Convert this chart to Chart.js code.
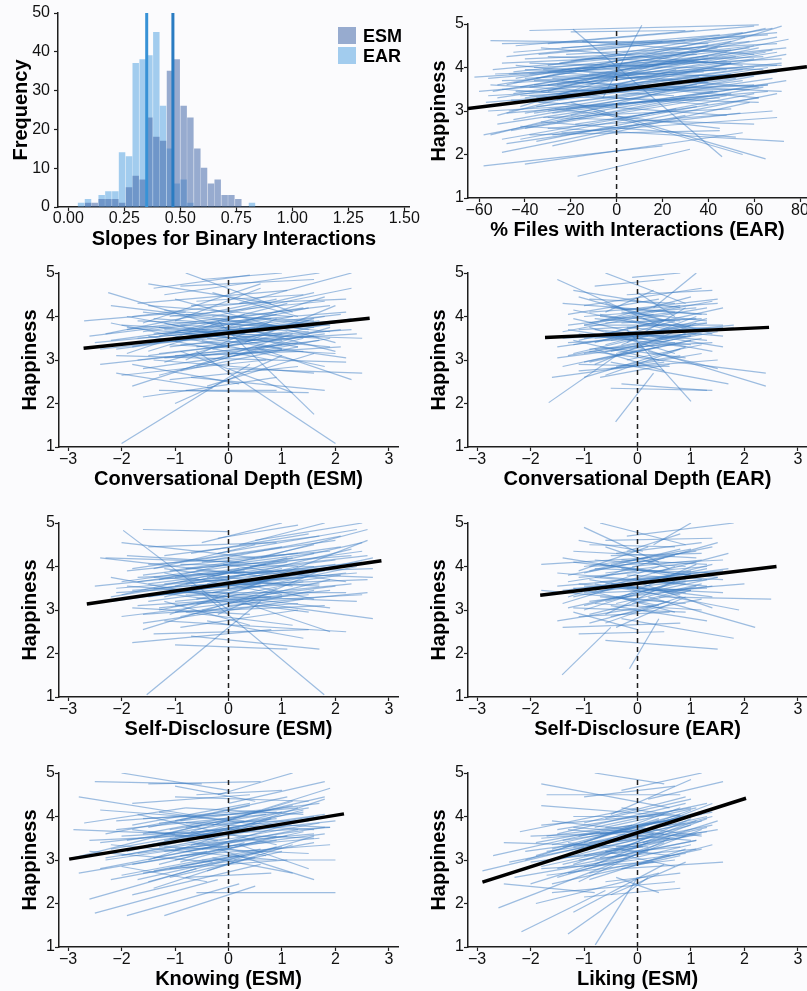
<!DOCTYPE html>
<html>
<head>
<meta charset="utf-8">
<title>Happiness and social interactions</title>
<script src="https://cdn.jsdelivr.net/npm/chart.js@4.4.1/dist/chart.umd.min.js"></script>
<style>
    html, body {
        margin: 0;
        padding: 0;
        width: 807px;
        height: 991px;
        overflow: hidden;
        background: #fbfbfd;
        font-family: "Liberation Sans", Arial, Helvetica, sans-serif;
    }
    canvas { position: absolute; }
    .swatch { position: absolute; width: 18px; height: 17px; }
    .key {
        position: absolute;
        font-size: 18px;
        font-weight: bold;
        color: #000;
        line-height: 20px;
    }
</style>
</head>
<body>
<canvas id="histChart" width="420" height="250" style="left:0;top:0"></canvas>
<canvas id="filesEarChart" width="420" height="245" style="left:409px;top:1px"></canvas>
<canvas id="depthEsmChart" width="420" height="245" style="left:0;top:250px"></canvas>
<canvas id="depthEarChart" width="420" height="245" style="left:409px;top:250px"></canvas>
<canvas id="discEsmChart" width="420" height="245" style="left:0;top:500px"></canvas>
<canvas id="discEarChart" width="420" height="245" style="left:409px;top:500px"></canvas>
<canvas id="knowEsmChart" width="420" height="245" style="left:0;top:750px"></canvas>
<canvas id="likeEsmChart" width="420" height="245" style="left:409px;top:750px"></canvas>

<!-- histogram legend -->
<div class="swatch" style="left:338px;top:27px;background:rgba(70,105,170,0.55)"></div>
<div class="key" style="left:363px;top:26px">ESM</div>
<div class="swatch" style="left:338px;top:47px;background:rgba(90,165,225,0.55)"></div>
<div class="key" style="left:363px;top:46px">EAR</div>

<script>
// ---- histogram data ----
const histBins = [0.057, 0.088, 0.118, 0.149, 0.179, 0.210, 0.240, 0.271, 0.301, 0.332, 0.362, 0.393, 0.423,
                  0.454, 0.484, 0.515, 0.545, 0.576, 0.606, 0.637, 0.667, 0.698, 0.728, 0.759, 0.789, 0.820];
const earCounts = [1, 2, 0, 3, 4, 4, 14, 13, 37, 38, 39, 45, 26, 15, 6, 7, 1, 0, 0, 0, 0, 0, 0, 0, 0, 1];
const esmCounts = [0, 1, 1, 2, 2, 2, 1, 5, 8, 7, 23, 18, 17, 35, 38, 26, 23, 15, 10, 6, 7, 3, 3, 2, 0, 0];
const earMean = 0.350;
const esmMean = 0.467;
const slopeTicks = [0, 0.25, 0.5, 0.75, 1, 1.25, 1.5];
const freqTicks = [0, 10, 20, 30, 40, 50];

// ---- shared tick values ----
const happyTicks = [1, 2, 3, 4, 5];
const zTicks = [-3, -2, -1, 0, 1, 2, 3];
const pctTicks = [-60, -40, -20, 0, 20, 40, 60, 80];

// ---- person-level lines [x1, y1, x2, y2] and fixed effect lines ----
const filesEarLines = [
    [-62, 3.78, 48, 4.15], [-58, 1.74, 20, 2.2], [-17, 1.5, 32, 2.12], [-19, 4.88, 46, 1.95],
    [-6, 3.3, 11, 4.97], [-55, 4.62, 40, 4.55], [-50, 4.55, 30, 4.62], [-38, 4.85, 62, 4.98],
    [-20, 4.82, 30, 4.85], [-45, 3.9, 60, 4.5], [-52, 3.3, 50, 4.1], [-48, 3.6, 65, 4.9],
    [-42, 3.1, 72, 4.95], [-55, 2.45, 40, 3.7], [-50, 2.05, 30, 2.9], [-40, 1.78, 55, 2.5],
    [-35, 2.3, 70, 3.4], [-30, 2.6, 68, 3.0], [-45, 2.8, 60, 3.8], [-56, 3.0, 45, 3.3],
    [-60, 3.45, 38, 3.9], [-40, 4.2, 50, 4.4], [-35, 3.75, 70, 4.7], [-25, 3.4, 74, 4.3],
    [-28, 2.95, 66, 3.6], [-33, 4.45, 55, 4.05], [-50, 4.1, 35, 4.3], [-44, 3.45, 58, 3.5],
    [-38, 2.45, 45, 2.55], [-30, 3.9, 62, 3.55], [-53, 3.85, 20, 4.0], [-42, 2.65, 73, 2.3],
    [-20, 3.2, 65, 1.9], [-10, 3.0, 55, 2.0], [-48, 2.25, 10, 2.7], [-58, 2.45, -5, 3.0],
    [-55, 3.6, 25, 3.35], [-45, 4.35, 45, 4.75], [-30, 4.55, 60, 4.95], [-25, 4.1, 68, 4.9],
    [-15, 3.65, 72, 4.1], [-35, 3.3, 55, 3.95], [-47, 3.0, 52, 3.75], [-38, 3.55, 60, 4.2],
    [-52, 2.7, 42, 3.45], [-28, 2.2, 58, 3.2], [-40, 3.95, 45, 3.8], [-22, 4.3, 70, 4.55],
    [-57, 3.2, 35, 3.6], [-32, 2.85, 50, 3.05], [-44, 3.75, 50, 4.6], [-36, 4.0, 64, 4.25],
    [-50, 3.5, 40, 3.15], [-26, 3.6, 75, 4.65], [-18, 2.7, 62, 3.3], [-42, 2.35, 35, 3.1],
    [-24, 2.5, 70, 2.85], [-54, 3.95, 30, 4.35], [-34, 3.2, 66, 4.0], [-46, 3.25, 48, 2.9],
    [-30, 3.45, 40, 4.5], [-12, 3.85, 68, 4.4], [-40, 2.95, 30, 3.55], [-50, 3.7, 62, 3.85],
    [-20, 2.9, 74, 3.7], [-27, 3.05, 45, 2.6], [-44, 4.05, 40, 3.65], [-36, 3.7, 72, 3.45],
    [-56, 3.35, 10, 3.55], [-15, 4.6, 60, 4.3], [-8, 4.4, 55, 4.8], [-33, 2.75, 52, 2.4],
    [-48, 4.25, 20, 4.6], [-24, 3.95, 40, 4.15], [-38, 3.35, 62, 3.2], [-52, 2.9, 26, 3.95],
    [-30, 4.25, 72, 4.05], [0, 2.8, 60, 3.4], [-45, 3.4, 70, 4.35], [-28, 3.5, 55, 3.85],
    [-40, 3.3, 60, 4.0], [-35, 3.1, 55, 3.7], [-30, 3.6, 65, 4.35], [-45, 3.65, 45, 3.95],
    [-25, 3.25, 70, 3.9], [-50, 3.15, 50, 3.85], [-38, 3.85, 58, 4.45], [-42, 3.55, 40, 4.25],
    [-20, 3.45, 60, 3.6], [-33, 3.45, 62, 4.45], [-28, 3.75, 48, 3.95], [-47, 3.85, 52, 4.25],
    [-36, 2.95, 68, 3.75], [-22, 3.05, 66, 3.45], [-44, 3.2, 36, 3.8], [-30, 4.05, 56, 4.7],
    [-52, 3.6, 44, 4.45], [-26, 2.75, 64, 3.55], [-40, 2.6, 48, 3.35], [-34, 4.3, 70, 4.8],
    [-18, 3.95, 74, 4.45], [-48, 2.95, 40, 3.35], [-24, 3.7, 62, 3.3], [-38, 4.1, 64, 3.95],
    [-30, 3.0, 50, 3.4], [-56, 3.75, 34, 4.15], [-42, 3.35, 66, 3.6], [-20, 4.15, 58, 4.6],
    [-46, 2.55, 30, 3.3], [-32, 3.95, 72, 4.2], [-28, 2.45, 54, 2.95], [-36, 3.6, 44, 3.45],
    [-50, 2.35, 26, 3.05], [-24, 4.45, 66, 4.75], [-40, 3.75, 70, 4.05], [-16, 3.35, 72, 3.95],
    [-44, 4.5, 34, 4.85], [-30, 2.85, 60, 2.7], [-54, 3.45, 48, 4.35], [-26, 3.25, 50, 4.1]
];
const filesEarFixed = [-64.8, 3.06, 83, 4.02];

const depthEsmLines = [
    [-2.7, 3.9, -0.8, 4.1], [-2.0, 1.08, 0.4, 2.9], [-0.6, 3.2, 2.0, 1.08], [-2.25, 4.55, 0.3, 3.6],
    [-1.5, 4.75, 0.8, 4.3], [-0.8, 5.0, 1.2, 4.1], [-0.5, 4.85, 1.0, 5.0], [-1.2, 4.5, 1.7, 5.0],
    [0.2, 4.3, 2.3, 5.0], [-0.3, 4.0, 2.3, 4.65], [-2.2, 4.25, 1.5, 3.7], [-1.9, 3.7, 1.9, 4.25],
    [-2.5, 3.4, 0.5, 3.75], [-2.4, 2.9, 1.0, 3.35], [-2.1, 3.1, 2.2, 2.95], [-1.8, 2.4, 1.2, 3.6],
    [-1.6, 2.15, 0.9, 2.6], [-1.3, 2.3, 1.5, 2.25], [-1.0, 2.0, 1.0, 3.1], [-0.7, 2.6, 1.8, 2.3],
    [-1.4, 3.0, 1.6, 2.7], [0.0, 2.8, 2.5, 2.7], [0.5, 3.3, 2.3, 2.55], [-0.2, 3.9, 1.6, 1.75],
    [-1.7, 3.5, 2.0, 3.9], [-1.1, 3.6, 2.1, 4.05], [-2.3, 3.6, 0.9, 4.4], [-1.9, 4.0, 1.3, 3.3],
    [-1.5, 3.2, 1.8, 4.45], [-0.9, 3.35, 2.4, 3.6], [-2.0, 2.65, 0.7, 3.0], [-1.2, 4.15, 1.4, 3.85],
    [-0.4, 3.5, 2.2, 3.05], [-1.6, 3.85, 0.6, 4.75], [-2.4, 3.25, -0.2, 3.55], [-1.0, 4.4, 2.0, 3.4],
    [-0.6, 2.85, 1.9, 3.75], [-1.8, 2.9, 0.2, 2.45], [-1.3, 3.75, 1.0, 3.45], [-0.8, 3.0, 0.9, 3.95],
    [-2.2, 3.85, 0.0, 3.3], [-1.4, 4.65, 0.4, 4.95], [0.3, 3.4, 2.0, 4.25], [-0.5, 3.7, 1.5, 4.2],
    [-1.1, 2.55, 1.3, 2.85], [-2.1, 2.7, -0.3, 2.35], [-0.9, 3.2, 1.2, 2.25], [-1.7, 4.3, 1.1, 4.6],
    [-0.3, 4.55, 1.3, 4.0], [0.1, 3.1, 1.9, 3.5], [-1.5, 3.55, 0.8, 3.0], [-0.7, 4.25, 2.2, 4.4],
    [-2.0, 3.35, 1.7, 3.9], [-1.2, 3.05, 2.1, 3.3], [-0.4, 2.4, 1.6, 3.15], [-1.6, 4.1, 1.9, 3.65],
    [-0.2, 3.6, 2.5, 3.5], [-1.0, 3.9, 0.6, 4.65], [-2.6, 3.55, -0.6, 3.85], [-0.9, 4.7, 1.6, 4.85],
    [-1.3, 2.65, 1.4, 3.5], [-0.5, 3.45, 1.8, 2.85], [0.0, 4.1, 1.6, 4.55], [-1.9, 3.15, 0.3, 4.05],
    [-1.4, 3.4, 2.3, 3.7], [0.2, 3.75, 2.0, 3.2], [-0.8, 2.3, 0.9, 2.3], [-1.1, 3.3, 1.1, 3.65],
    [-1.5, 3.4, 1.5, 3.9], [-1.2, 3.7, 1.7, 3.5], [-1.8, 3.3, 1.2, 4.0], [-1.0, 3.45, 2.0, 3.85],
    [-1.6, 3.65, 1.4, 4.2], [-0.8, 3.6, 1.9, 3.3], [-1.3, 3.15, 1.6, 3.55], [-2.0, 3.8, 1.0, 3.6],
    [-1.1, 4.0, 1.8, 4.35], [-0.6, 3.3, 2.1, 3.7], [-1.7, 3.0, 1.3, 3.4], [-1.4, 3.95, 0.9, 3.75],
    [-0.9, 3.8, 1.5, 3.65], [-1.2, 2.95, 1.6, 3.95], [-2.2, 3.45, 0.8, 3.95], [-0.7, 3.55, 1.8, 4.0],
    [-1.5, 4.25, 1.2, 4.0], [-1.0, 3.1, 1.4, 3.2], [-1.9, 3.75, 0.5, 3.45], [-0.4, 3.85, 2.2, 4.1],
    [-1.3, 3.55, 1.1, 4.3], [-1.6, 2.8, 1.0, 3.25], [-0.8, 4.05, 1.6, 3.9], [-1.1, 3.35, 2.0, 3.15],
    [-0.5, 3.1, 1.7, 3.45], [-1.8, 4.0, 0.6, 4.35], [-1.4, 3.6, 1.9, 3.8], [-0.9, 2.75, 1.3, 3.3],
    [-2.1, 3.25, 0.4, 3.65], [-0.6, 4.35, 1.4, 4.5], [-1.2, 3.85, 1.0, 3.25], [-1.5, 3.1, 1.8, 3.6],
    [-0.3, 3.25, 2.3, 3.95], [-1.7, 3.9, 1.6, 3.75], [-1.0, 3.65, 0.9, 4.05]
];
const depthEsmFixed = [-2.71, 3.27, 2.64, 3.96];

const depthEarLines = [
    [-1.66, 2.02, -0.4, 3.1], [-0.41, 1.58, 0.3, 2.7], [-1.5, 4.85, 0.4, 3.8], [-0.6, 5.0, 0.9, 4.3],
    [-0.1, 4.9, 0.8, 5.0], [0.3, 4.2, 1.1, 5.0], [-0.2, 4.5, 1.4, 4.6], [-1.2, 4.6, 0.8, 4.2],
    [-1.4, 4.3, 1.3, 4.05], [-0.9, 4.1, 1.5, 4.3], [-1.0, 3.8, 1.6, 3.8], [-0.7, 3.9, 1.0, 4.45],
    [-1.3, 3.4, 1.0, 3.55], [-0.8, 3.5, 1.2, 3.7], [-1.5, 3.05, 0.7, 3.4], [-1.6, 2.6, 0.5, 2.95],
    [-1.1, 2.75, 1.5, 3.0], [-0.5, 2.95, 1.7, 2.45], [-0.9, 3.2, 2.4, 2.7], [0.0, 3.3, 2.4, 2.4],
    [-0.3, 2.45, 1.3, 2.3], [-0.2, 3.7, 1.0, 2.05], [-1.0, 2.6, 0.9, 3.3], [-0.6, 4.3, 1.4, 3.6],
    [-1.2, 3.95, 0.6, 3.45], [-0.4, 3.55, 1.8, 3.8], [-1.4, 3.65, 0.3, 4.05], [-0.8, 2.9, 1.1, 3.85],
    [-1.1, 4.45, 0.5, 3.9], [-0.5, 3.2, 0.9, 3.6], [-0.3, 4.15, 1.5, 4.4], [-0.9, 3.75, 0.7, 3.15],
    [-1.5, 3.3, 0.8, 3.7], [-0.7, 2.6, 0.6, 2.9], [0.1, 3.6, 1.6, 3.3], [-0.2, 3.0, 1.2, 3.35],
    [-1.3, 4.05, 0.4, 4.4], [-0.6, 3.35, 1.3, 3.95], [-1.0, 4.25, 1.2, 4.65], [-0.1, 4.0, 1.0, 3.7],
    [-0.8, 4.7, 0.5, 4.85], [-1.2, 3.15, 0.2, 3.55], [0.2, 3.2, 1.5, 2.8], [-0.4, 2.85, 0.8, 3.1],
    [-0.6, 3.6, 1.6, 4.2], [-1.4, 2.85, 0.1, 3.25], [-0.3, 3.85, 1.2, 3.95], [-0.9, 3.55, 0.9, 3.55],
    [0.0, 4.55, 0.7, 4.0], [-0.7, 4.0, 0.8, 3.9], [-1.1, 3.45, 0.6, 3.95], [0.4, 3.5, 1.8, 3.75],
    [-0.5, 2.35, 1.4, 2.3], [-0.2, 3.4, 0.9, 4.2], [-1.3, 3.7, 0.0, 3.45], [-0.8, 3.25, 0.5, 2.75],
    [0.1, 3.95, 1.3, 4.2], [-0.6, 4.1, 0.3, 4.6], [-0.4, 3.15, 1.1, 3.6], [-1.0, 2.95, 0.4, 3.3],
    [-1.0, 3.5, 1.2, 3.6], [-0.8, 3.7, 1.3, 3.45], [-1.2, 3.35, 1.0, 3.8], [-0.6, 3.85, 1.1, 3.95],
    [-0.9, 3.25, 1.4, 3.4], [-1.1, 3.6, 0.9, 3.3], [-0.5, 3.45, 1.3, 3.85], [-0.7, 4.05, 1.0, 3.65],
    [-1.3, 3.8, 0.7, 4.1], [-0.4, 3.1, 1.2, 3.5], [-0.8, 3.95, 1.5, 3.7], [-1.0, 3.15, 0.8, 3.55],
    [-0.6, 3.65, 1.4, 3.2], [-1.2, 4.15, 0.6, 3.7], [-0.3, 3.35, 1.1, 4.0], [-0.9, 2.95, 1.0, 3.45],
    [-0.5, 4.2, 1.2, 4.05], [-1.1, 3.7, 1.3, 3.85], [-0.7, 3.3, 0.9, 3.05], [-1.4, 3.5, 0.5, 3.6],
    [-0.2, 3.75, 1.6, 3.55], [-0.9, 3.85, 0.8, 4.25], [-0.6, 3.2, 1.5, 3.65], [-1.2, 3.45, 0.4, 3.0],
    [-0.4, 3.55, 1.0, 3.35], [-1.0, 4.0, 1.1, 4.2], [-0.8, 3.4, 0.7, 3.9], [-0.5, 2.8, 1.2, 3.15],
    [-1.3, 3.1, 0.9, 3.6], [-0.7, 3.6, 1.6, 3.75], [-0.3, 4.1, 1.3, 3.9], [-1.1, 2.9, 0.6, 2.85],
    [-0.9, 4.4, 0.7, 4.3], [-0.6, 2.65, 0.8, 3.25], [-1.0, 3.8, 1.4, 4.35]
];
const depthEarFixed = [-1.73, 3.52, 2.46, 3.75];

const discEsmLines = [
    [-1.53, 1.05, 0.6, 3.2], [-1.97, 4.83, 0.0, 3.0], [-0.5, 3.4, 1.79, 1.05], [-1.6, 4.85, 0.0, 4.8],
    [-2.3, 4.2, 0.2, 4.1], [-2.0, 4.55, 0.5, 4.2], [-0.5, 4.55, 1.0, 5.0], [0.2, 4.5, 1.8, 5.0],
    [0.5, 4.6, 2.5, 5.0], [-0.2, 4.3, 2.4, 4.85], [-1.2, 4.25, 1.7, 4.7], [-2.5, 3.55, 0.3, 3.9],
    [-2.2, 3.2, 1.5, 3.8], [-2.0, 2.85, 1.0, 3.3], [-1.8, 2.25, 0.8, 2.55], [-1.4, 2.45, 1.5, 2.55],
    [-1.0, 2.2, 1.1, 2.1], [-0.7, 2.4, 1.7, 2.1], [-1.6, 2.55, 0.9, 3.5], [-1.2, 2.75, 2.2, 2.5],
    [-0.3, 3.3, 2.7, 2.8], [0.0, 3.1, 2.6, 3.4], [-0.8, 3.35, 2.4, 3.2], [-1.5, 3.6, 2.0, 4.15],
    [-1.9, 3.9, 1.3, 4.3], [-1.0, 3.75, 2.6, 4.25], [-0.6, 3.9, 2.7, 3.75], [-2.4, 4.2, 0.8, 3.75],
    [-1.3, 3.0, 1.4, 3.65], [-0.9, 4.05, 1.6, 4.0], [-1.7, 3.3, 0.6, 3.55], [-0.4, 3.6, 2.3, 4.4],
    [-1.1, 3.45, 1.9, 3.05], [0.3, 3.5, 2.6, 4.6], [-2.1, 3.5, 0.0, 3.7], [-0.2, 2.9, 1.8, 3.95],
    [-1.5, 4.45, 0.9, 4.55], [-0.8, 2.95, 1.2, 2.65], [-1.8, 3.05, 0.4, 2.9], [-0.5, 4.1, 2.1, 4.7],
    [-1.2, 3.85, 1.0, 3.35], [0.4, 4.0, 2.5, 4.35], [-1.6, 2.9, 1.3, 3.15], [-0.3, 3.75, 1.6, 3.25],
    [-2.2, 3.75, -0.2, 3.3], [-1.0, 3.1, 2.0, 3.55], [-0.7, 4.3, 1.5, 4.75], [0.1, 3.85, 2.7, 3.95],
    [-1.4, 3.95, 0.5, 4.5], [-0.9, 2.6, 1.3, 3.0], [-1.3, 3.4, 1.5, 2.95], [-0.1, 4.05, 2.2, 3.65],
    [-0.6, 3.15, 2.5, 3.35], [-1.9, 4.25, 0.7, 4.05], [-1.1, 2.9, 0.9, 3.75], [0.2, 3.2, 1.9, 2.5],
    [-0.4, 2.75, 1.4, 2.35], [-1.7, 3.65, 1.1, 4.1], [-0.2, 4.65, 1.3, 4.95], [0.6, 4.2, 2.6, 4.85],
    [-0.8, 3.6, 2.0, 4.0], [-2.0, 3.35, 0.2, 3.95], [-1.2, 3.2, 0.4, 2.65], [-0.5, 3.5, 1.7, 3.6],
    [-1.5, 3.3, 1.8, 3.9], [-1.2, 3.6, 2.0, 4.05], [-1.8, 3.45, 1.4, 3.75], [-1.0, 3.2, 2.3, 3.6],
    [-1.6, 3.8, 1.6, 4.3], [-0.8, 3.45, 2.2, 3.85], [-1.3, 3.05, 1.9, 3.45], [-2.0, 3.65, 1.2, 4.2],
    [-1.1, 3.9, 2.1, 4.45], [-0.6, 3.25, 2.4, 4.0], [-1.7, 3.1, 1.5, 3.35], [-1.4, 3.75, 1.7, 3.55],
    [-0.9, 3.65, 2.5, 4.1], [-1.2, 3.3, 1.3, 4.0], [-2.2, 3.3, 1.0, 3.95], [-0.7, 3.55, 2.6, 3.7],
    [-1.5, 4.05, 1.9, 4.35], [-1.0, 2.95, 1.8, 3.1], [-1.9, 3.55, 0.8, 3.3], [-0.4, 3.75, 2.5, 4.55],
    [-1.3, 3.7, 1.6, 4.5], [-1.6, 2.7, 1.4, 3.25], [-0.8, 3.95, 2.3, 4.25], [-1.1, 3.4, 2.2, 3.4],
    [-0.5, 3.0, 1.9, 3.7], [-1.8, 3.95, 1.0, 4.45], [-1.4, 3.5, 2.4, 3.85], [-0.9, 2.85, 1.6, 3.45],
    [-2.1, 3.4, 0.6, 3.6], [-0.6, 4.15, 2.0, 4.6], [-1.2, 3.95, 1.2, 3.55], [-1.5, 3.2, 2.1, 3.8],
    [-0.3, 3.4, 2.7, 4.2], [-1.7, 3.75, 1.8, 3.95], [-1.0, 3.55, 1.1, 4.2]
];
const discEsmFixed = [-2.65, 3.14, 2.86, 4.13];

const discEarLines = [
    [-1.41, 1.51, -0.5, 2.6], [-0.15, 1.65, 0.4, 2.8], [-1.8, 4.05, 0.2, 4.2], [-1.0, 4.9, 0.4, 4.1],
    [-0.7, 5.0, 0.9, 4.5], [-0.2, 4.7, 1.8, 5.0], [0.3, 4.5, 1.0, 5.0], [-0.6, 4.6, 1.4, 4.65],
    [-1.2, 4.35, 1.1, 4.2], [-1.4, 4.2, 0.6, 3.8], [-0.9, 4.0, 1.6, 4.15], [-1.5, 3.85, 0.9, 3.6],
    [-1.2, 3.5, 1.3, 3.7], [-1.8, 3.45, 0.5, 3.2], [-1.5, 2.75, 0.3, 3.1], [-1.4, 2.6, 0.8, 2.7],
    [-1.1, 2.45, 0.5, 2.5], [-0.6, 2.3, 1.5, 2.1], [-0.3, 2.8, 1.8, 2.35], [0.2, 3.3, 2.2, 2.6],
    [-0.2, 3.5, 1.9, 3.0], [0.4, 3.3, 2.5, 3.25], [-0.8, 3.15, 1.2, 3.0], [-1.0, 3.0, 0.7, 3.65],
    [-0.5, 3.6, 1.7, 3.95], [-1.3, 3.3, 0.4, 4.0], [-0.9, 3.7, 0.8, 3.35], [-0.4, 4.3, 1.2, 4.55],
    [-0.7, 3.4, 1.3, 3.5], [-1.1, 3.9, 0.2, 4.45], [-0.3, 3.95, 1.5, 3.75], [-0.6, 2.9, 1.0, 3.85],
    [0.1, 3.6, 1.4, 3.05], [-1.2, 3.05, 0.9, 2.95], [-0.8, 4.15, 0.9, 4.0], [-0.1, 3.15, 1.1, 3.55],
    [-0.5, 4.05, 1.0, 4.4], [-1.3, 3.65, 0.0, 3.9], [-0.9, 2.7, 0.6, 3.2], [0.2, 4.1, 1.5, 4.55],
    [-0.4, 3.3, 0.7, 2.95], [-1.0, 3.55, 1.6, 3.4], [-0.2, 4.35, 0.8, 4.75], [-0.7, 3.75, 0.5, 4.2],
    [0.0, 3.7, 1.6, 3.85], [-1.1, 4.6, 0.1, 4.35], [-0.5, 3.1, 1.3, 2.75], [-0.3, 3.6, 0.9, 3.7],
    [-1.4, 3.15, -0.2, 3.6], [0.3, 3.85, 1.7, 4.3], [-0.8, 3.6, 0.4, 3.35], [-0.6, 4.45, 0.6, 3.95],
    [-1.2, 2.95, 0.0, 2.55], [0.5, 3.45, 2.0, 3.6], [-0.4, 2.6, 0.9, 3.3], [-0.9, 3.35, 1.4, 4.05],
    [-0.1, 4.0, 1.2, 4.15], [-1.5, 3.55, 0.4, 3.75],
    [-1.0, 3.4, 1.2, 3.7], [-0.8, 3.75, 1.3, 3.55], [-1.2, 3.3, 1.0, 3.9], [-0.6, 3.85, 1.1, 4.1],
    [-0.9, 3.2, 1.4, 3.55], [-1.1, 3.6, 0.9, 3.4], [-0.5, 3.5, 1.3, 3.95], [-0.7, 4.05, 1.0, 3.8],
    [-1.3, 3.8, 0.7, 4.25], [-0.4, 3.15, 1.2, 3.6], [-0.8, 3.95, 1.5, 3.85], [-1.0, 3.1, 0.8, 3.65],
    [-0.6, 3.6, 1.4, 3.3], [-1.2, 4.1, 0.6, 3.85], [-0.3, 3.3, 1.1, 4.05], [-0.9, 2.9, 1.0, 3.45],
    [-0.5, 4.25, 1.2, 4.3], [-1.1, 3.75, 1.3, 4.0], [-0.7, 3.3, 0.9, 3.15], [-1.4, 3.45, 0.5, 3.7],
    [-0.2, 3.8, 1.6, 3.7], [-0.9, 3.9, 0.8, 4.4], [-0.6, 3.2, 1.5, 3.75], [-1.2, 3.5, 0.4, 3.1],
    [-0.4, 3.55, 1.0, 3.45], [-1.0, 4.0, 1.1, 4.35], [-0.8, 3.45, 0.7, 4.0], [-0.5, 2.85, 1.2, 3.25],
    [-1.3, 3.05, 0.9, 3.65], [-0.7, 3.65, 1.6, 3.9], [-0.3, 4.15, 1.3, 4.05], [-1.1, 2.85, 0.6, 2.95],
    [-0.9, 4.5, 0.7, 4.45], [-0.6, 2.7, 0.8, 3.3], [-1.0, 3.85, 1.4, 4.45]
];
const discEarFixed = [-1.82, 3.34, 2.6, 4.0];

const knowEsmLines = [
    [-2.5, 1.78, -0.2, 2.55], [-1.9, 1.72, 0.2, 2.45], [-1.2, 1.72, 0.5, 2.4], [-0.6, 2.25, 2.0, 2.25],
    [-2.9, 3.05, -0.5, 3.8], [-2.9, 3.7, -1.0, 3.6], [-2.8, 4.45, -0.5, 4.0], [-2.7, 3.85, -0.8, 4.2],
    [-2.0, 5.0, 0.0, 4.6], [-2.5, 4.8, -0.5, 4.75], [-1.5, 4.75, 0.6, 4.8], [-0.2, 4.5, 1.2, 5.0],
    [0.0, 4.3, 1.8, 4.8], [-1.0, 4.45, 1.5, 4.35], [-1.8, 4.3, 0.4, 4.5], [-2.4, 4.15, 0.3, 3.9],
    [-2.6, 3.45, 0.0, 3.6], [-2.3, 3.0, 0.5, 3.5], [-2.8, 2.7, -0.4, 3.2], [-2.6, 2.1, -0.6, 2.8],
    [-2.2, 2.55, 0.2, 3.1], [-1.8, 2.2, 0.6, 2.9], [-1.5, 2.5, 0.9, 3.3], [-1.1, 2.8, 1.1, 3.0],
    [-0.8, 2.6, 0.8, 2.7], [-0.5, 3.0, 2.0, 3.0], [-0.2, 3.25, 1.6, 2.55], [0.2, 3.35, 1.5, 2.8],
    [-1.6, 3.3, 1.0, 4.1], [-1.2, 3.6, 1.8, 4.45], [-0.9, 3.9, 1.7, 4.3], [-2.0, 3.55, 0.8, 3.75],
    [-1.4, 3.05, 1.3, 3.7], [-0.6, 3.55, 2.0, 3.9], [-1.0, 3.25, 1.8, 3.75], [-2.1, 3.9, 0.6, 4.15],
    [-0.3, 3.8, 1.9, 4.65], [-1.7, 4.05, 0.9, 3.35], [-0.8, 4.2, 1.4, 4.05], [-1.3, 2.9, 0.3, 3.4],
    [-2.4, 2.8, -0.1, 3.35], [-0.4, 2.75, 1.2, 3.35], [-1.9, 3.2, 0.1, 3.75], [-1.1, 3.5, 0.7, 3.1],
    [-0.7, 3.35, 1.6, 3.6], [-2.2, 3.35, 0.9, 3.0], [-1.5, 3.75, 0.4, 4.25], [-0.1, 3.6, 1.7, 4.0],
    [-1.0, 4.7, 0.5, 4.35], [-2.6, 3.2, -0.3, 2.95], [-1.6, 2.7, 0.5, 3.05], [-0.5, 4.0, 1.3, 4.2],
    [-1.3, 4.1, 0.3, 3.85], [0.1, 3.0, 1.6, 3.55], [-0.9, 2.95, 0.9, 3.55], [-1.8, 3.7, -0.2, 3.45],
    [-0.3, 3.05, 1.2, 2.7], [-2.3, 3.6, -0.6, 4.0], [0.3, 3.85, 1.9, 3.75], [-1.2, 3.3, 1.5, 3.15],
    [-0.6, 4.5, 1.0, 4.6], [-2.0, 2.85, -0.4, 2.5], [-0.8, 3.75, 0.9, 3.95], [-1.4, 2.35, 0.1, 2.95],
    [-2.0, 3.1, 1.0, 3.8], [-1.5, 3.35, 1.5, 3.9], [-1.8, 2.9, 0.9, 3.45], [-1.2, 3.45, 1.6, 4.0],
    [-2.2, 3.25, 0.5, 3.85], [-1.0, 3.0, 1.4, 3.65], [-1.6, 3.6, 1.2, 4.25], [-0.8, 3.2, 1.8, 3.6],
    [-1.4, 2.75, 1.0, 3.3], [-2.1, 3.7, 0.7, 4.05], [-1.1, 3.7, 1.5, 4.2], [-0.6, 3.35, 1.7, 3.85],
    [-1.7, 3.15, 1.1, 3.55], [-1.3, 3.85, 1.3, 3.9], [-0.9, 2.85, 1.6, 3.4], [-2.4, 3.4, 0.2, 3.75],
    [-1.5, 3.0, 0.8, 3.95], [-1.0, 3.55, 1.9, 3.75], [-1.9, 3.45, 1.4, 4.1], [-0.7, 3.65, 1.2, 4.35],
    [-1.2, 3.2, 1.7, 3.5], [-2.0, 2.65, 0.6, 3.25], [-1.6, 3.95, 0.9, 4.1], [-0.5, 3.25, 1.5, 3.95],
    [-1.4, 3.5, 1.8, 4.05], [-1.1, 2.6, 1.0, 3.2], [-1.8, 3.8, 0.4, 4.3], [-0.8, 3.85, 1.6, 3.7],
    [-2.3, 3.05, 0.0, 3.5], [-1.3, 3.3, 1.4, 4.15], [-0.4, 3.5, 1.8, 4.4], [-1.7, 2.55, 0.3, 3.1],
    [-1.0, 3.9, 1.1, 4.45], [-1.5, 3.65, 1.6, 3.5], [-0.9, 3.1, 1.9, 3.35]
];
const knowEsmFixed = [-2.98, 3.02, 2.16, 4.06];

const likeEsmLines = [
    [-2.17, 1.35, -0.6, 2.3], [-0.79, 1.05, 0.0, 2.6], [-1.3, 1.3, 0.2, 2.6], [-2.9, 2.75, -1.0, 3.3],
    [-2.6, 1.9, -0.5, 2.9], [-2.7, 3.1, -0.7, 3.65], [-2.2, 3.65, 0.0, 4.2], [-1.8, 4.75, 0.6, 4.2],
    [-1.7, 4.5, 0.8, 4.5], [-0.8, 5.0, 0.5, 4.75], [-0.3, 4.6, 1.2, 5.0], [0.2, 4.4, 1.6, 4.8],
    [-0.5, 4.05, 1.0, 4.85], [-1.8, 4.25, 0.8, 4.0], [-2.5, 3.4, 0.2, 3.3], [-2.4, 2.95, 0.3, 3.6],
    [-2.0, 2.45, 0.5, 3.4], [-1.9, 2.0, 0.4, 2.7], [-1.6, 2.25, 0.7, 2.5], [-1.2, 1.8, 0.5, 2.9],
    [-1.0, 2.15, 0.8, 2.35], [-0.6, 2.5, 0.8, 2.7], [-0.3, 2.8, 1.6, 2.95], [0.0, 2.9, 1.4, 3.35],
    [-1.4, 2.9, 1.1, 3.6], [-1.1, 3.2, 1.4, 3.8], [-0.8, 3.5, 1.3, 4.15], [-1.5, 3.6, 0.9, 4.3],
    [-2.1, 3.0, 0.4, 3.95], [-1.3, 3.4, 0.6, 3.1], [-0.9, 2.7, 1.2, 3.25], [-1.7, 3.2, 0.1, 3.5],
    [-0.4, 3.3, 1.5, 3.7], [-1.0, 3.85, 0.9, 4.45], [-1.2, 4.0, 0.3, 4.0], [-0.6, 3.75, 1.1, 4.2],
    [-2.3, 2.6, -0.2, 3.05], [-1.5, 2.6, 0.2, 3.2], [-0.7, 3.05, 1.0, 3.95], [-1.9, 3.4, -0.1, 3.8],
    [-0.2, 3.55, 1.4, 4.3], [-1.1, 2.5, 0.6, 3.5], [-0.5, 2.2, 0.9, 2.95], [-1.6, 3.9, 0.5, 3.6],
    [-0.9, 3.3, 0.4, 3.75], [-2.0, 3.55, 0.1, 3.65], [-1.4, 3.05, 0.8, 3.3], [0.1, 3.4, 1.3, 3.95],
    [-0.3, 4.2, 0.9, 4.0], [-1.0, 4.45, 0.7, 4.7], [-2.5, 2.45, -0.8, 2.25], [-0.8, 2.9, 0.2, 3.4],
    [-1.3, 3.7, 1.0, 3.45], [-0.6, 3.2, 0.7, 2.85], [-1.8, 2.8, 0.3, 2.95], [0.0, 3.75, 1.2, 3.55],
    [-0.4, 2.6, 0.4, 2.25], [-1.6, 3.35, 1.1, 4.05],
    [-1.5, 3.0, 1.0, 3.8], [-1.2, 3.3, 1.2, 3.9], [-1.8, 2.85, 0.6, 3.5], [-1.0, 3.1, 1.3, 3.75],
    [-1.6, 3.25, 0.8, 4.05], [-0.8, 3.0, 1.1, 3.45], [-1.3, 2.7, 1.0, 3.35], [-1.9, 3.1, 0.4, 3.9],
    [-1.1, 3.55, 1.4, 4.1], [-0.6, 3.2, 1.2, 3.6], [-1.7, 2.65, 0.7, 3.0], [-1.4, 3.45, 0.9, 3.85],
    [-0.9, 3.4, 1.3, 4.0], [-1.2, 2.9, 1.1, 3.9], [-2.1, 3.2, 0.3, 3.6], [-0.7, 3.6, 1.2, 4.05],
    [-1.5, 3.7, 1.0, 4.2], [-1.0, 2.85, 0.9, 3.15], [-1.8, 3.5, 0.2, 3.7], [-0.4, 3.45, 1.4, 4.0],
    [-1.3, 3.15, 1.0, 4.15], [-1.6, 2.45, 0.8, 3.1], [-0.8, 3.75, 1.3, 4.3], [-1.1, 3.0, 1.1, 3.25],
    [-0.5, 2.9, 1.2, 3.7], [-1.8, 3.8, 0.5, 4.05], [-1.4, 3.3, 1.3, 3.65], [-0.9, 2.55, 0.9, 3.25],
    [-2.0, 2.95, 0.1, 3.3], [-0.6, 3.95, 1.0, 4.4], [-1.2, 3.75, 0.9, 3.55], [-1.5, 2.8, 1.1, 3.45],
    [-0.3, 3.2, 1.5, 3.9], [-1.7, 3.55, 0.9, 3.95], [-1.0, 3.4, 0.8, 4.2]
];
const likeEsmFixed = [-2.9, 2.49, 2.03, 4.42];

// ---- styling ----
const FONT = '"Liberation Sans", Arial, Helvetica, sans-serif';
const AXIS_COLOR = '#1e1e1e';
const TICK_COLOR = '#111111';
const LINE_BLUE = 'rgba(62, 126, 196, 0.5)';
const ESM_FILL = 'rgba(70, 105, 170, 0.55)';
const EAR_FILL = 'rgba(90, 165, 225, 0.55)';
const ZERO_LINE_TOP = 4.92;

Chart.defaults.font.family = FONT;

function signedTick(value) {
    return value < 0 ? '\u2212' + Math.abs(value) : String(value);
}

// one axis in the ggplot look: dark axis line, short outside ticks, no grid
function buildAxis(cfg) {
    return {
        type: 'linear',
        min: cfg.min,
        max: cfg.max,
        offset: false,
        afterBuildTicks: scale => { scale.ticks = cfg.ticks.map(v => ({ value: v })); },
        afterFit: scale => {
            if (cfg.horizontal) scale.height = cfg.size;
            else scale.width = cfg.size;
        },
        border: { display: true, color: AXIS_COLOR, width: 1.5 },
        grid: {
            display: true,
            drawOnChartArea: false,
            offset: false,
            tickLength: 4,
            tickColor: AXIS_COLOR,
            tickWidth: 1.2
        },
        ticks: {
            autoSkip: false,
            maxRotation: 0,
            padding: cfg.tickPad,
            color: TICK_COLOR,
            font: { size: 16, lineHeight: 1 },
            callback: cfg.format || signedTick
        },
        title: {
            display: true,
            text: cfg.title,
            color: '#000',
            font: { size: 20, weight: 'bold', lineHeight: 1 },
            padding: cfg.horizontal ? { top: 0, bottom: cfg.titlePad } : { top: cfg.titlePad, bottom: 0 }
        }
    };
}

function segment(x1, y1, x2, y2) {
    return [{ x: x1, y: y1 }, { x: x2, y: y2 }];
}

function initSpaghettiChart(canvasId, lines, fixed, xMin, xMax, xTicks, xTitle) {
    const datasets = [
        { data: segment(fixed[0], fixed[1], fixed[2], fixed[3]), borderColor: '#000', borderWidth: 3.5, order: 0 },
        { data: segment(0, 1, 0, ZERO_LINE_TOP), borderColor: AXIS_COLOR, borderWidth: 1.5, borderDash: [5, 4], order: 1 }
    ];
    lines.forEach(l => {
        datasets.push({ data: segment(l[0], l[1], l[2], l[3]), borderColor: LINE_BLUE, borderWidth: 1.2, order: 2 });
    });
    datasets.forEach(ds => {
        ds.showLine = true;
        ds.pointRadius = 0;
        ds.fill = false;
    });

    return new Chart(document.getElementById(canvasId), {
        type: 'scatter',
        data: { datasets },
        options: {
            responsive: false,
            animation: false,
            events: [],
            layout: { padding: { top: 23, left: 0, right: 22, bottom: 0 } },
            plugins: { legend: { display: false }, tooltip: { enabled: false } },
            scales: {
                x: buildAxis({ min: xMin, max: xMax, ticks: xTicks, title: xTitle, horizontal: true, size: 48, tickPad: 1, titlePad: 6 }),
                y: buildAxis({ min: 1, max: 5, ticks: happyTicks, title: 'Happiness', size: 59, tickPad: 0, titlePad: 20 })
            }
        }
    });
}

function initHistogram() {
    return new Chart(document.getElementById('histChart'), {
        type: 'bar',
        data: {
            datasets: [
                {
                    type: 'line', data: segment(earMean, 0, earMean, 50),
                    borderColor: 'rgb(56, 146, 214)', borderWidth: 3, pointRadius: 0, order: 0
                },
                {
                    type: 'line', data: segment(esmMean, 0, esmMean, 50),
                    borderColor: 'rgb(42, 124, 194)', borderWidth: 3, pointRadius: 0, order: 0
                },
                {
                    label: 'ESM', data: histBins.map((x, i) => ({ x, y: esmCounts[i] })),
                    backgroundColor: ESM_FILL, borderWidth: 0, barThickness: 5.8, grouped: false, order: 1
                },
                {
                    label: 'EAR', data: histBins.map((x, i) => ({ x, y: earCounts[i] })),
                    backgroundColor: EAR_FILL, borderWidth: 0, barThickness: 5.8, grouped: false, order: 2
                }
            ]
        },
        options: {
            responsive: false,
            animation: false,
            events: [],
            layout: { padding: { top: 13, left: 0, right: 10, bottom: 0 } },
            plugins: { legend: { display: false }, tooltip: { enabled: false } },
            scales: {
                x: buildAxis({
                    min: -0.046, max: 1.525, ticks: slopeTicks, title: 'Slopes for Binary Interactions',
                    horizontal: true, size: 43, tickPad: 0, titlePad: 1, format: v => v.toFixed(2)
                }),
                y: buildAxis({ min: 0, max: 50, ticks: freqTicks, title: 'Frequency', size: 58, tickPad: 4, titlePad: 11 })
            }
        }
    });
}

initHistogram();
initSpaghettiChart('filesEarChart', filesEarLines, filesEarFixed, -64.8, 83.05, pctTicks, '% Files with Interactions (EAR)');
initSpaghettiChart('depthEsmChart', depthEsmLines, depthEsmFixed, -3.17, 3.17, zTicks, 'Conversational Depth (ESM)');
initSpaghettiChart('depthEarChart', depthEarLines, depthEarFixed, -3.17, 3.17, zTicks, 'Conversational Depth (EAR)');
initSpaghettiChart('discEsmChart', discEsmLines, discEsmFixed, -3.17, 3.17, zTicks, 'Self-Disclosure (ESM)');
initSpaghettiChart('discEarChart', discEarLines, discEarFixed, -3.17, 3.17, zTicks, 'Self-Disclosure (EAR)');
initSpaghettiChart('knowEsmChart', knowEsmLines, knowEsmFixed, -3.17, 3.17, zTicks, 'Knowing (ESM)');
initSpaghettiChart('likeEsmChart', likeEsmLines, likeEsmFixed, -3.17, 3.17, zTicks, 'Liking (ESM)');
</script>
</body>
</html>
